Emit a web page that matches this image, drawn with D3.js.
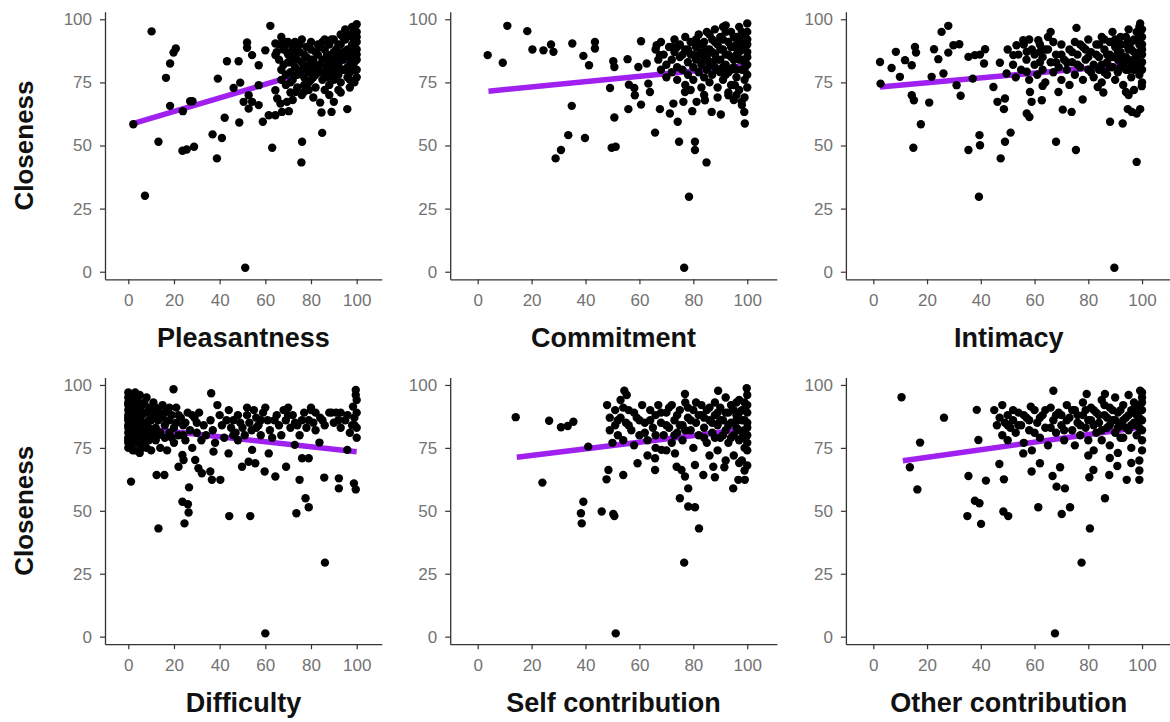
<!DOCTYPE html>
<html><head><meta charset="utf-8">
<script src="https://cdn.jsdelivr.net/npm/d3@7"></script>
<style>body{margin:0;background:#fff}svg{display:block}</style>
</head><body>
<svg id="c" width="1170" height="722"></svg>
<script>
// ---------- DATA ----------
const yTicks = [0, 25, 50, 75, 100];
const xTicks = [0, 20, 40, 60, 80, 100];
const yTitle = "Closeness";
const xTitles = ["Pleasantness", "Commitment", "Intimacy", "Difficulty", "Self contribution", "Other contribution"];

const pleasantness = [
[10.2,95.2],[7.3,30.1],[2.2,58.4],[13.2,51.5],[16.5,76.8],[18.3,82.5],[19.8,86.8],[20.8,88.4],[18.3,65.7],[23.9,63.6],
[27.1,67.5],[28.1,67.5],[23.7,47.9],[25.6,48.4],[28.8,49.5],[36.9,54.4],[41,53],[38.8,44.9],[42.2,61],[39.2,76.5],
[43.2,83.4],[48.3,83.4],[52,90.8],[52,88.7],[46.1,72.8],[49,74.9],[48.6,59.1],[51.2,1.6],[62.2,97.4],[63,49.1],
[58.9,59.4],[61.5,62],[64.4,62],[67.3,63.3],[70.3,63.6],[76.1,51.5],[75.8,43.3],[84.9,55],[84.6,63.1],[89,63.3],
[95.9,64.4],[90,67.3],[73.2,71.2],[76.9,71.2],[57.1,73.9],[52.7,69.9],[54.2,67.3],[57.1,66],[50.5,67.3],[52.7,64.6],
[64.4,71.9],[65.2,68.6],[66.6,66.6],[69.5,67.3],[54.2,85.8],[57.1,81.8],[60,87.7],[64.4,90.4],[64.4,85.8],[68.8,91],[69.5,87],
[66,90],[66,84],[67,80],[67,76],[68,88],[68,82],[69,78],[69,74],[70,91],[70,86],[71,83],[71,79],[72,76],[72,89],[73,85],
[73,81],[74,78],[74,73],[75,90],[75,87],[76,83],[76,80],[77,77],[77,74],[78,89],[78,85],[79,82],[79,79],[80,76],[80,88],
[81,84],[81,80],[82,78],[82,73],[83,90],[83,86],[84,82],[84,79],[85,76],[85,91],[86,88],[86,84],[87,81],[87,77],[88,74],
[88,90],[89,86],[89,83],[90,80],[90,76],[90,92],[91,88],[91,85],[92,82],[92,78],[93,94],[93,90],[93,75],[94,87],[94,84],
[95,80],[95,96],[95,92],[96,88],[96,85],[96,77],[97,82],[97,79],[97,94],[98,90],[98,86],[98,97],[99,83],[99,80],[99,92],
[100,98],[100,95],[100,88],[100,84],[100,80],[100,77],[100,91],[99,75],[86,72],[92,72],[79,72],[76,70],[81,69],[84,67],
[88,70],[93,71],[97,73],[72,68],[71,71],
[65,87],[67,93],[69,90],[70,83],[71,75],[72,86],[73,91],[74,88],[74,84],[75,79],[76,92],[77,86],[78,81],[79,75],[80,84],
[80,91],[81,77],[82,87],[82,82],[83,80],[84,89],[85,84],[86,79],[86,92],[87,86],[88,83],[88,78],[89,92],[89,79],[90,87],
[91,82],[91,79],[92,90],[92,86],[93,84],[94,80],[94,93],[95,86],[96,94],[96,81],[97,88],[97,76],[98,83],[98,93],[99,87],
[99,95],[100,86],[100,93]
];
const commitment = [
[3.7,85.8],[11,97.4],[9.3,82.8],[18.4,95.3],[20.3,88],[24.4,87.7],[27.2,90],[28.1,87.1],[35.1,90.4],[39.2,85.5],
[41.3,81.8],[43.5,91],[43.5,88.4],[34.9,65.7],[33.6,54.1],[30.9,48.2],[28.9,44.9],[39.8,53],[50.3,83.4],[50.7,81.1],
[49.1,72.8],[50.7,61.1],[49.7,49.1],[51.2,49.5],[55.6,84.2],[55.9,64.4],[56.1,74.1],[58.1,72.8],[58.3,69.9],[60.6,66.2],
[60.6,91.3],[59.6,81.1],[62.7,82.5],[63.3,74.5],[63.9,71.2],[65.8,55.1],[67.6,64.4],[66.4,89.7],[67.6,85.8],[71.3,62.7],
[74.2,59.4],[72.6,66.6],[74.7,51.5],[80.6,51.5],[80.6,48.2],[84.9,43.3],[78.4,29.7],[76.6,1.6],[79.6,63.6],[86.8,63.3],
[90.2,62.3],[97.9,67.3],[98.9,63.3],[99.1,58.7],[76.9,71.2],[76.3,67.3],[81.2,67.3],[84.3,67.9],[93,69.9],[95.4,73.9],
[92,97.6],[100,98.3],
[66,88],[67,84],[68,80],[68,91],[69,86],[70,82],[70,77],[71,89],[72,84],[72,79],[73,92],[73,87],[74,81],[74,76],[75,90],
[75,85],[76,80],[77,93],[77,88],[77,74],[78,83],[78,78],[79,91],[79,86],[80,81],[80,76],[81,89],[81,84],[82,94],[82,79],
[83,87],[83,82],[83,73],[84,91],[84,77],[85,85],[85,80],[85,95],[86,88],[86,75],[87,83],[87,92],[87,78],[88,86],[88,81],
[88,96],[89,90],[89,73],[90,84],[90,79],[90,93],[91,88],[91,76],[91,97],[92,82],[92,86],[93,91],[93,79],[93,71],[94,85],
[94,95],[94,74],[95,89],[95,81],[96,93],[96,77],[96,86],[97,84],[97,97],[97,72],[98,90],[98,80],[98,88],[99,94],[99,83],
[99,76],[100,92],[100,87],[100,82],[100,78],[100,73],[99,69],[98,66],[96,70],[89,69],[84,70],[79,72],[95,68],
[81,92],[82,86],[83,90],[84,84],[85,88],[86,82],[86,94],[87,87],[88,91],[89,84],[89,80],[90,88],[91,81],[91,92],[92,78],
[92,95],[93,86],[94,89],[94,80],[95,93],[95,84],[96,80],[96,90],[97,87],[97,92],[98,84],[98,95],[99,80],[99,90],[100,95],
[100,85],[100,90],[76,86],[78,88],[80,86],[74,89],[72,89]
];
const intimacy = [
[2.5,83.1],[2.7,74.5],[6.8,80.7],[8.4,87.1],[9.9,77.2],[11.8,83.8],[14.3,81.8],[15.5,89],[15.9,86.8],[14.3,69.9],
[15.1,67.9],[20.8,67],[17.7,58.4],[14.9,49.1],[21.7,77.2],[22.6,88.1],[24.2,84.2],[25.4,95],[27.9,97.4],[26.1,78.5],
[27.9,86.8],[29.8,89.7],[32,90.1],[31,73.9],[32.5,69.7],[35.4,85.1],[37.8,85.8],[39.7,86],[41.6,88.1],[37,76.5],
[41.2,82.5],[39.5,54.1],[39.7,50.1],[35.4,48.2],[39.3,29.7],[44.7,73.2],[47.1,82.8],[46.2,67.3],[49,68.6],[48.6,64.4],
[47.4,44.9],[49,51.5],[51.1,55.1],[49.6,78.5],[52.1,85.8],[53.3,89.7],[55.8,91.7],[57.1,87.1],[57.1,79.2],[58.3,71.2],
[58.9,67.3],[57.1,62.7],[58.1,61.3],[61.4,91.7],[62,87.1],[63,73.6],[62.7,67.9],[68,51.5],[68.9,71.2],[70.5,64.2],
[73.8,63.3],[75.4,48.2],[75.6,96.6],[77.9,68.2],[83.5,73.2],[85.6,71],[88.1,59.4],[92.8,58.7],[89.7,1.6],[94,71.2],
[94.7,64.4],[96.2,63.3],[98,62.7],[99.3,64.4],[98,43.5],[99.9,73.5],[99.3,98.3],
[50,88],[52,82],[53,77],[54,86],[55,80],[56,90],[57,84],[58,76],[59,88],[60,82],[61,78],[62,90],[63,85],[63,80],[64,75],
[65,88],[66,83],[67,79],[67,91],[68,86],[69,81],[70,76],[70,90],[71,84],[72,80],[73,88],[73,74],[74,83],[75,78],[75,91],
[76,86],[77,81],[78,89],[78,76],[79,84],[80,80],[80,92],[81,87],[82,82],[82,77],[83,90],[84,85],[84,80],[85,93],[85,75],
[86,88],[87,83],[87,78],[88,91],[88,86],[89,81],[89,95],[90,89],[90,76],[91,84],[91,79],[92,93],[92,87],[93,82],[93,74],
[94,90],[94,85],[95,96],[95,80],[96,88],[96,77],[97,92],[97,84],[98,81],[98,95],[99,87],[99,78],[100,90],[100,83],[100,75],
[100,93],[100,86],[99,97],[97,72],[95,70],[60,86],[65,93],[58,92],[66,95],
[70,86],[72,83],[74,87],[76,82],[77,90],[79,88],[80,85],[81,79],[83,86],[84,90],[85,82],[86,79],[86,92],[87,86],[88,81],
[89,85],[90,92],[91,87],[92,81],[92,90],[93,85],[94,80],[94,93],[95,88],[95,84],[96,91],[96,82],[97,87],[97,80],[98,92],
[98,85],[99,82],[99,90],[100,88],[100,80],[100,96],[64,88],[68,83],[62,83]
];
const difficulty = [
[1.2,61.6],[13.2,43],[24.6,45],[23.7,53.6],[26.1,52.6],[26.4,49.3],[26.6,59.3],[12.4,64.2],[15.8,64.2],[19.8,98.3],
[36.3,96.7],[44.2,47.9],[53.4,47.9],[60,1.3],[86.1,29.4],[73.6,49],[77.6,55],[79,51.4],[75,62.3],[76.1,70.9],
[85.8,63.2],[92.2,62.9],[92.2,58.9],[98.8,60.9],[99.6,58.5],[83.7,77.1],[95.9,74.2],[99.6,98],[99.6,96],[98.4,91.4],
[79,70.9],[59.7,65.6],[64.4,63.6],[69.1,67.5],[61.5,72.8],[72.9,76.2],[49.8,67.5],[52.7,69.5],[55.6,68.9],[54.2,74.2],
[36.6,62.3],[40.3,62.3],[35.9,65.6],[32.2,64.9],[37.3,73.5],[43.9,72.8],[29.3,70.2],[30.7,66.9],[24.2,70.2],[22,67.5],
[23.7,72.2],[52,91],[60,91],[70,91],[80,90],[89,89],[93,89],
[0,97],[0,93],[0,90],[0,87],[0,84],[0,81],[0,78],[0,75],[1,95],[1,88],[1,82],[1,79],[2,92],[2,86],[2,77],[3,97],[3,90],
[3,84],[3,74],[4,94],[4,88],[4,81],[5,96],[5,86],[5,79],[5,73],[6,92],[6,84],[7,89],[7,77],[8,95],[8,82],[8,75],[9,91],
[9,86],[10,80],[10,74],[11,93],[11,88],[12,83],[12,78],[13,90],[13,86],[14,81],[14,75],[15,92],[15,87],[16,84],[16,79],
[17,90],[17,74],[18,86],[18,81],[19,88],[20,83],[20,77],[21,91],[22,80],[23,87],[24,84],[25,78],[26,89],[27,82],[28,75],
[29,87],[30,81],[31,89],[32,78],[33,84],[34,80],[36,86],[37,82],[38,77],[39,92],[40,88],[41,84],[42,79],[44,90],[45,83],
[46,86],[47,81],[48,78],[49,85],[50,83],[51,80],[52,88],[53,85],[54,82],[55,90],[56,87],[57,84],[58,80],[59,89],[61,86],
[62,82],[63,79],[65,88],[66,84],[67,80],[68,90],[69,86],[71,83],[72,88],[74,84],[75,80],[76,86],[77,89],[78,83],[79,86],
[80,91],[81,85],[82,82],[84,87],[86,84],[88,89],[90,85],[91,89],[93,83],[95,86],[96,88],[97,81],[98,84],[99,87],[100,94],
[100,89],[100,83],[100,79],
[0,95],[0,92],[0,88],[0,86],[0,83],[0,79],[0,77],[1,91],[1,85],[1,76],[2,89],[2,83],[2,80],[2,74],[3,94],[3,87],[3,80],
[4,91],[4,85],[4,77],[5,90],[5,83],[6,88],[6,80],[6,75],[7,93],[7,85],[7,80],[8,89],[9,83],[9,78],[10,90],[10,86],[11,82],
[12,91],[13,80],[14,88],[16,89],[18,91],[19,79],[21,85],[22,88],[24,80],[25,85],[28,88],[30,85],[43,86],[46,80],[48,88],
[56,83],[58,86],[64,86],[70,88],[73,85],[82,89],[85,86],[92,86],[99,84]
];
const selfContribution = [
[14.1,87.2],[26.5,85.8],[30.9,83.2],[33.4,83.7],[35.5,85.4],[24,61.2],[41,75.5],[39.2,53.6],[38.3,49],[38.6,45],
[46,49.7],[50.3,48.7],[50.7,47.9],[48.5,66.2],[47.8,62.5],[54,64.2],[54.4,97.7],[55.3,96],[51.2,1.3],[59.3,68.9],
[65.8,66.2],[65.8,70.9],[68.2,74.2],[73.2,72.8],[73.8,67.5],[75.6,66.2],[76.9,63.6],[78.1,58.9],[75,55],[78.1,51.7],
[80.6,51.4],[82.1,43],[76.6,29.4],[76.9,96.4],[80.6,68.2],[83.7,64.2],[87.4,67.5],[88,63.3],[91.5,67.3],[94.8,58.9],
[96.7,62.3],[99.1,62.3],[89.2,97.7],[99.8,98.7],
[48,92],[49,87],[49,82],[50,77],[51,90],[51,84],[52,80],[53,94],[53,87],[54,78],[55,85],[56,90],[57,82],[58,76],[59,87],
[60,80],[61,92],[62,85],[63,78],[64,90],[65,83],[66,88],[66,75],[67,92],[68,85],[69,80],[70,89],[71,83],[72,92],[72,77],
[73,86],[74,81],[75,90],[76,84],[76,78],[77,93],[78,87],[79,82],[80,90],[80,75],[81,85],[82,80],[83,92],[83,88],[84,83],
[85,77],[85,90],[86,86],[87,81],[88,93],[88,88],[89,84],[89,74],[90,79],[90,91],[91,86],[92,82],[92,95],[93,89],[93,77],
[94,85],[94,92],[95,80],[95,72],[96,88],[96,83],[97,94],[97,78],[98,90],[98,86],[98,70],[99,82],[99,93],[99,75],[100,96],
[100,89],[100,85],[100,80],[100,77],[100,68],[99,66],[97,69],[92,70],[86,72],[70,74],[63,72],
[52,86],[54,91],[56,84],[58,89],[60,86],[62,81],[64,86],[66,80],[68,89],[70,84],[71,91],[73,80],[74,88],[75,84],[77,82],
[78,91],[79,86],[81,93],[82,88],[84,87],[84,79],[86,91],[87,85],[88,79],[89,89],[90,86],[91,80],[92,89],[93,84],[94,79],
[95,90],[96,86],[96,93],[97,82],[97,89],[98,79],[99,86],[99,90],[100,92],[100,83],[100,74]
];
const otherContribution = [
[10.5,95.1],[13.6,67.3],[16.4,58.5],[17.4,77.1],[26.3,87],[38.5,90.1],[39.1,78.1],[35.4,63.8],[41.9,62],[37.8,54],
[39.5,53],[35,47.9],[40.1,44.8],[48.4,49.7],[50.2,47.9],[46.9,68.6],[48.6,62.5],[55.8,72.8],[58.9,65.6],[62,68.9],
[61.4,51.4],[67,97.7],[67.6,1.3],[66.7,63.8],[68.2,59.6],[71.3,58.9],[69.5,67.3],[70.1,48.7],[73.2,51.4],[77.5,29.4],
[80.6,43],[79.4,96.4],[86.2,96.4],[80.4,63.3],[81.9,66.2],[86.2,55],[87.8,64.2],[90.8,67.8],[94.3,62.3],[99,62.3],
[99.3,97.7],[58.6,91.4],
[45,90],[46,84],[47,87],[48,80],[48,92],[49,85],[50,78],[50,88],[51,83],[52,86],[53,81],[54,89],[55,84],[56,77],[57,87],
[58,82],[59,74],[60,90],[61,85],[62,79],[63,88],[64,83],[65,76],[66,91],[67,86],[68,81],[69,89],[70,84],[71,78],[72,92],
[73,87],[74,82],[75,76],[75,90],[76,85],[77,80],[78,93],[78,88],[79,83],[80,78],[81,91],[81,86],[82,74],[83,89],[83,81],
[84,85],[85,94],[85,78],[86,88],[87,83],[88,91],[88,76],[89,86],[90,81],[90,95],[91,89],[91,73],[92,84],[93,92],[93,79],
[94,87],[95,82],[95,96],[96,90],[96,75],[97,85],[97,93],[98,80],[98,88],[99,83],[99,91],[99,70],[100,97],[100,86],[100,78],
[100,93],[100,82],[99,66],[96,69],[88,71],[80,72],
[50,84],[52,90],[54,84],[56,88],[58,86],[60,81],[62,87],[64,90],[66,83],[68,88],[70,88],[71,82],[72,86],[74,90],[76,88],
[77,84],[79,90],[80,86],[82,84],[82,90],[84,88],[85,82],[86,92],[87,87],[88,84],[89,90],[90,86],[91,83],[92,90],[92,79],
[93,86],[94,83],[95,88],[96,84],[97,89],[98,84],[98,92],[99,87],[100,90],[100,74],[100,95]
];

// fitted regression line endpoints [x, closeness]
const pleasantnessFit = [[2,58.7],[100,85]];
const commitmentFit = [[4,71.5],[100,81.6]];
const intimacyFit = [[2.5,73.2],[100,82.5]];
const difficultyFit = [[0,83.4],[100,73.5]];
const selfFit = [[14.5,71.3],[100,82.5]];
const otherFit = [[11,69.9],[100,83.3]];

// ---------- LAYOUT ----------
const svg = d3.select("#c");
const font = "'Liberation Sans', Arial, Helvetica, sans-serif";
const cols = [[105, 381.8], [450.2, 776.9], [845.9, 1171.6]];
const rows = [[11.7, 279.3], [377.4, 644.2]];
const xDomain = [-10.2, 111];
const yDomain = [-3, 103];

const panels = [
  {data: pleasantness, fit: pleasantnessFit, title: xTitles[0], c: 0, r: 0},
  {data: commitment, fit: commitmentFit, title: xTitles[1], c: 1, r: 0},
  {data: intimacy, fit: intimacyFit, title: xTitles[2], c: 2, r: 0},
  {data: difficulty, fit: difficultyFit, title: xTitles[3], c: 0, r: 1},
  {data: selfContribution, fit: selfFit, title: xTitles[4], c: 1, r: 1},
  {data: otherContribution, fit: otherFit, title: xTitles[5], c: 2, r: 1}
];

panels.forEach(p => {
  const [x0, x1] = cols[p.c];
  const [yTop, yBot] = rows[p.r];
  const x = d3.scaleLinear().domain(xDomain).range([x0, x1]);
  const y = d3.scaleLinear().domain(yDomain).range([yBot, yTop]);
  const g = svg.append("g");

  // regression line
  g.append("path")
    .datum(p.fit)
    .attr("d", d3.line().x(d => x(d[0])).y(d => y(d[1])))
    .attr("fill", "none").attr("stroke", "#A020F0")
    .attr("stroke-width", 5.5).attr("stroke-linecap", "butt");

  // points
  g.selectAll("circle.pt").data(p.data).join("circle")
    .attr("class", "pt")
    .attr("cx", d => x(d[0])).attr("cy", d => y(d[1]))
    .attr("r", 4.2).attr("fill", "#000");

  // axes
  const xa = g.append("g").attr("transform", `translate(0,${yBot})`)
    .call(d3.axisBottom(x).tickValues(xTicks).tickSize(5).tickSizeOuter(0).tickPadding(10));
  const ya = g.append("g").attr("transform", `translate(${x0},0)`)
    .call(d3.axisLeft(y).tickValues(yTicks).tickSize(5).tickSizeOuter(0).tickPadding(8));
  [xa, ya].forEach(a => {
    a.select(".domain").attr("stroke", "#333").attr("stroke-width", 1.3);
    a.selectAll(".tick line").attr("stroke", "#333").attr("stroke-width", 1.2);
    a.selectAll(".tick text").attr("fill", "#737373")
      .style("font-family", font).style("font-size", "17px");
  });

  // x title
  g.append("text")
    .attr("x", (x0 + x1) / 2).attr("y", yBot + 68)
    .attr("text-anchor", "middle")
    .style("font-family", font).style("font-weight", "bold").style("font-size", "27px")
    .attr("fill", "#111").text(p.title);

  // y title only in first column
  if (p.c === 0) {
    g.append("text")
      .attr("transform", `translate(33,${(yTop + yBot) / 2}) rotate(-90)`)
      .attr("text-anchor", "middle")
      .style("font-family", font).style("font-weight", "bold").style("font-size", "26px")
      .attr("fill", "#111").text(yTitle);
  }
});
</script>
</body></html>
